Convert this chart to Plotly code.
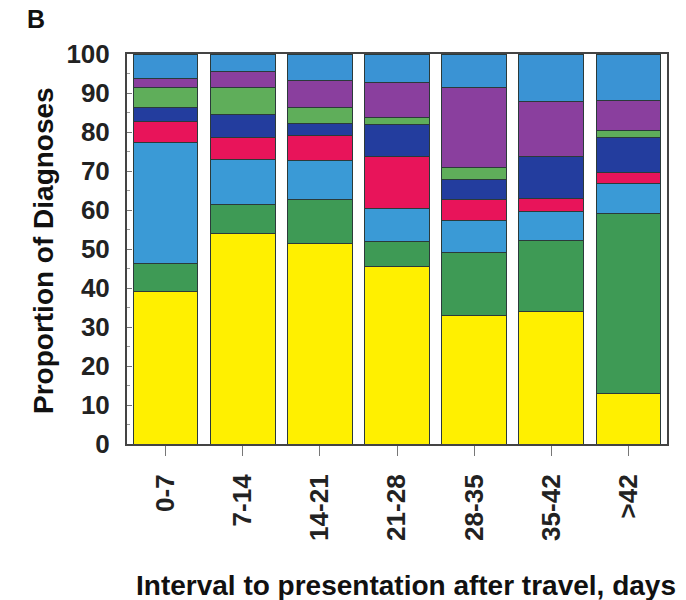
import plotly.graph_objects as go

# Intervals from return to presentation
intervals = ["0-7", "7-14", "14-21", "21-28", "28-35", "35-42", ">42"]

# Percent of diagnoses per interval, stacked bottom to top
yellow_seg = [39.0, 54.0, 51.5, 45.6, 33.0, 34.1, 13.0]
green_low = [7.2, 7.3, 11.1, 6.2, 16.0, 18.2, 46.2]
light_blue = [31.0, 11.7, 10.0, 8.7, 8.4, 7.2, 7.7]
red_seg = [5.4, 5.7, 6.6, 13.1, 5.2, 3.5, 2.6]
dark_blue = [3.6, 5.7, 3.1, 8.2, 5.1, 10.6, 9.0]
green_high = [5.1, 6.9, 4.1, 1.8, 3.1, 0.0, 2.0]
purple_seg = [2.3, 4.1, 6.9, 9.0, 20.7, 14.1, 7.7]
blue_top = [6.4, 4.6, 6.7, 7.4, 8.5, 12.3, 11.8]

series = [
    (yellow_seg, "#fff000"),
    (green_low, "#3e9a55"),
    (light_blue, "#3a9ad6"),
    (red_seg, "#e8145a"),
    (dark_blue, "#233d9e"),
    (green_high, "#5fae5a"),
    (purple_seg, "#8a3f9e"),
    (blue_top, "#3a93d4"),
]

fig = go.Figure()
for vals, col in series:
    fig.add_trace(go.Bar(
        x=intervals, y=vals,
        marker=dict(color=col, line=dict(color="#2b3a3a", width=1)),
        showlegend=False,
    ))

font_fam = "Liberation Sans, Arial, sans-serif"
fig.update_layout(
    barmode="stack",
    bargap=0.16,
    width=686, height=600,
    margin=dict(l=127, r=19, t=54, b=156),
    plot_bgcolor="white", paper_bgcolor="white",
    font=dict(family=font_fam, color="#222"),
    xaxis=dict(
        tickangle=-90,
        tickfont=dict(size=26, family=font_fam, weight="bold", color="#222"),
        ticks="outside", ticklen=10, tickcolor="#777",
        ticklabelstandoff=8,
        showline=True, linecolor="#444", linewidth=2, mirror=True,
    ),
    yaxis=dict(
        range=[0, 100], dtick=10,
        tickfont=dict(size=26, family=font_fam, weight="bold", color="#222"),
        ticks="inside", ticklen=5, tickcolor="#777",
        ticklabelstandoff=10,
        minor=dict(dtick=5, ticks="inside", ticklen=3, tickcolor="#999"),
        showgrid=False, zeroline=False,
        showline=True, linecolor="#444", linewidth=2, mirror=True,
    ),
    annotations=[
        dict(text="<b>B</b>", xref="paper", yref="paper",
             x=(36 - 127) / 540, y=(444 - 19) / 390,
             xanchor="center", yanchor="middle", showarrow=False,
             font=dict(size=25, family=font_fam, color="#111")),
        dict(text="<b>Proportion of Diagnoses</b>", xref="paper", yref="paper",
             x=(43 - 127) / 540, y=(444 - 251) / 390, textangle=-90,
             xanchor="center", yanchor="middle", showarrow=False,
             font=dict(size=28, family=font_fam, color="#111")),
        dict(text="<b>Interval to presentation after travel, days</b>", xref="paper",
             yref="paper", x=(406 - 127) / 540, y=(444 - 585) / 390,
             xanchor="center", yanchor="middle", showarrow=False,
             font=dict(size=28, family=font_fam, color="#111")),
    ],
)

fig.write_html("out.html")
